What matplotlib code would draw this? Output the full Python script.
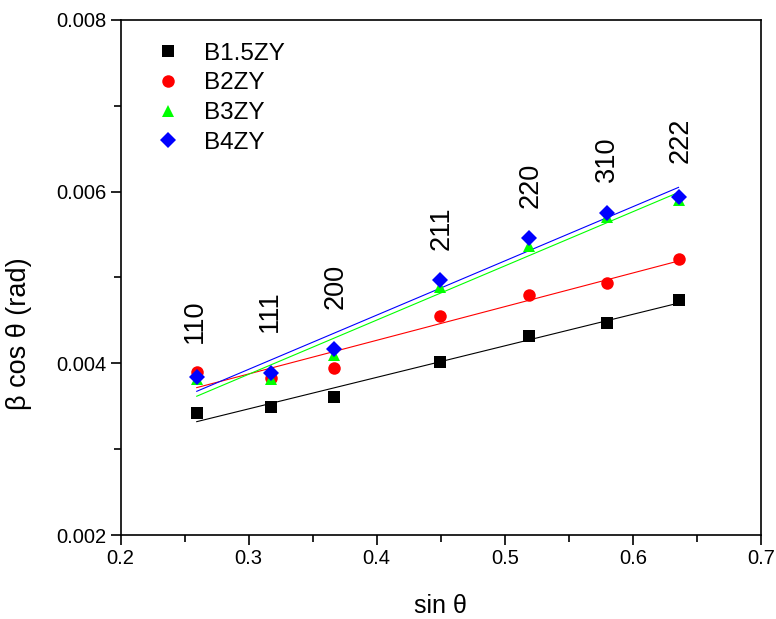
import numpy as np
import matplotlib
matplotlib.use("Agg")
import matplotlib.pyplot as plt
from matplotlib.ticker import MultipleLocator, FormatStrFormatter

plt.rcParams['font.family'] = ['Liberation Sans', 'DejaVu Sans']

sin_theta = [0.2594, 0.3177, 0.3669, 0.4494, 0.5190, 0.5802, 0.6357]
hkl = ["110", "111", "200", "211", "220", "310", "222"]

b15zy = [0.003425, 0.003494, 0.003607, 0.004012, 0.004321, 0.004466, 0.004737]
b2zy = [0.003902, 0.003825, 0.003942, 0.004551, 0.004796, 0.004939, 0.005211]
b3zy = [0.003820, 0.003814, 0.004097, 0.004892, 0.005366, 0.005708, 0.005902]
b4zy = [0.003844, 0.003884, 0.004163, 0.004970, 0.005456, 0.005747, 0.005941]

series = [
    ("B1.5ZY", b15zy, "black", "s", 8),
    ("B2ZY", b2zy, "red", "o", 9),
    ("B3ZY", b3zy, "#00ff00", "^", 9),
    ("B4ZY", b4zy, "blue", "D", 8),
]

# hkl label positions (x, y) in data units
label_x = [0.258, 0.3166, 0.368, 0.4508, 0.5198, 0.5797, 0.637]
label_y = [0.004493, 0.004609, 0.004895, 0.005576, 0.006077, 0.00638, 0.0066]

fig = plt.figure(figsize=(7.76, 6.19), dpi=100)
ax = fig.add_axes([0.1555, 0.1357, 0.825, 0.832])

x = np.array(sin_theta)
for name, ys, col, mk, ms in series:
    ys = np.array(ys)
    k, b = np.polyfit(x, ys, 1)
    xx = np.array([x.min(), x.max()])
    ax.plot(xx, k * xx + b, color=col, lw=0.8, zorder=2)
for name, ys, col, mk, ms in series:
    ax.plot(x, ys, linestyle='none', marker=mk, color=col, markersize=ms,
            markeredgewidth=0, label=name, zorder=3)

for t, lx, ly in zip(hkl, label_x, label_y):
    ax.text(lx, ly, t, rotation=90, ha='center', va='center', fontsize=19.5)

ax.set_xlim(0.2, 0.7)
ax.set_ylim(0.002, 0.008)
ax.xaxis.set_major_locator(MultipleLocator(0.1))
ax.xaxis.set_minor_locator(MultipleLocator(0.05))
ax.yaxis.set_major_locator(MultipleLocator(0.002))
ax.yaxis.set_minor_locator(MultipleLocator(0.001))
ax.tick_params(which='both', direction='out', top=False, right=False, width=1.2, pad=2.5)
ax.tick_params(which='major', length=7.5, labelsize=14.5)
ax.tick_params(which='minor', length=5)
ax.xaxis.set_major_formatter(FormatStrFormatter('%.1f'))
ax.yaxis.set_major_formatter(FormatStrFormatter('%.3f'))
for s in ax.spines.values():
    s.set_linewidth(1.2)

ax.set_xlabel("sin θ", fontsize=18)
ax.set_ylabel("β cos θ (rad)", fontsize=19.5)
ax.xaxis.set_label_coords(0.5, -0.115)
ax.yaxis.set_label_coords(-0.139, 0.39)

ax.legend(loc='upper left', bbox_to_anchor=(0.03, 0.975), frameon=False,
          fontsize=17.5, handletextpad=0.75, labelspacing=0.32, borderaxespad=0,
          handlelength=1.5)

fig.savefig("out.png", dpi=100)
